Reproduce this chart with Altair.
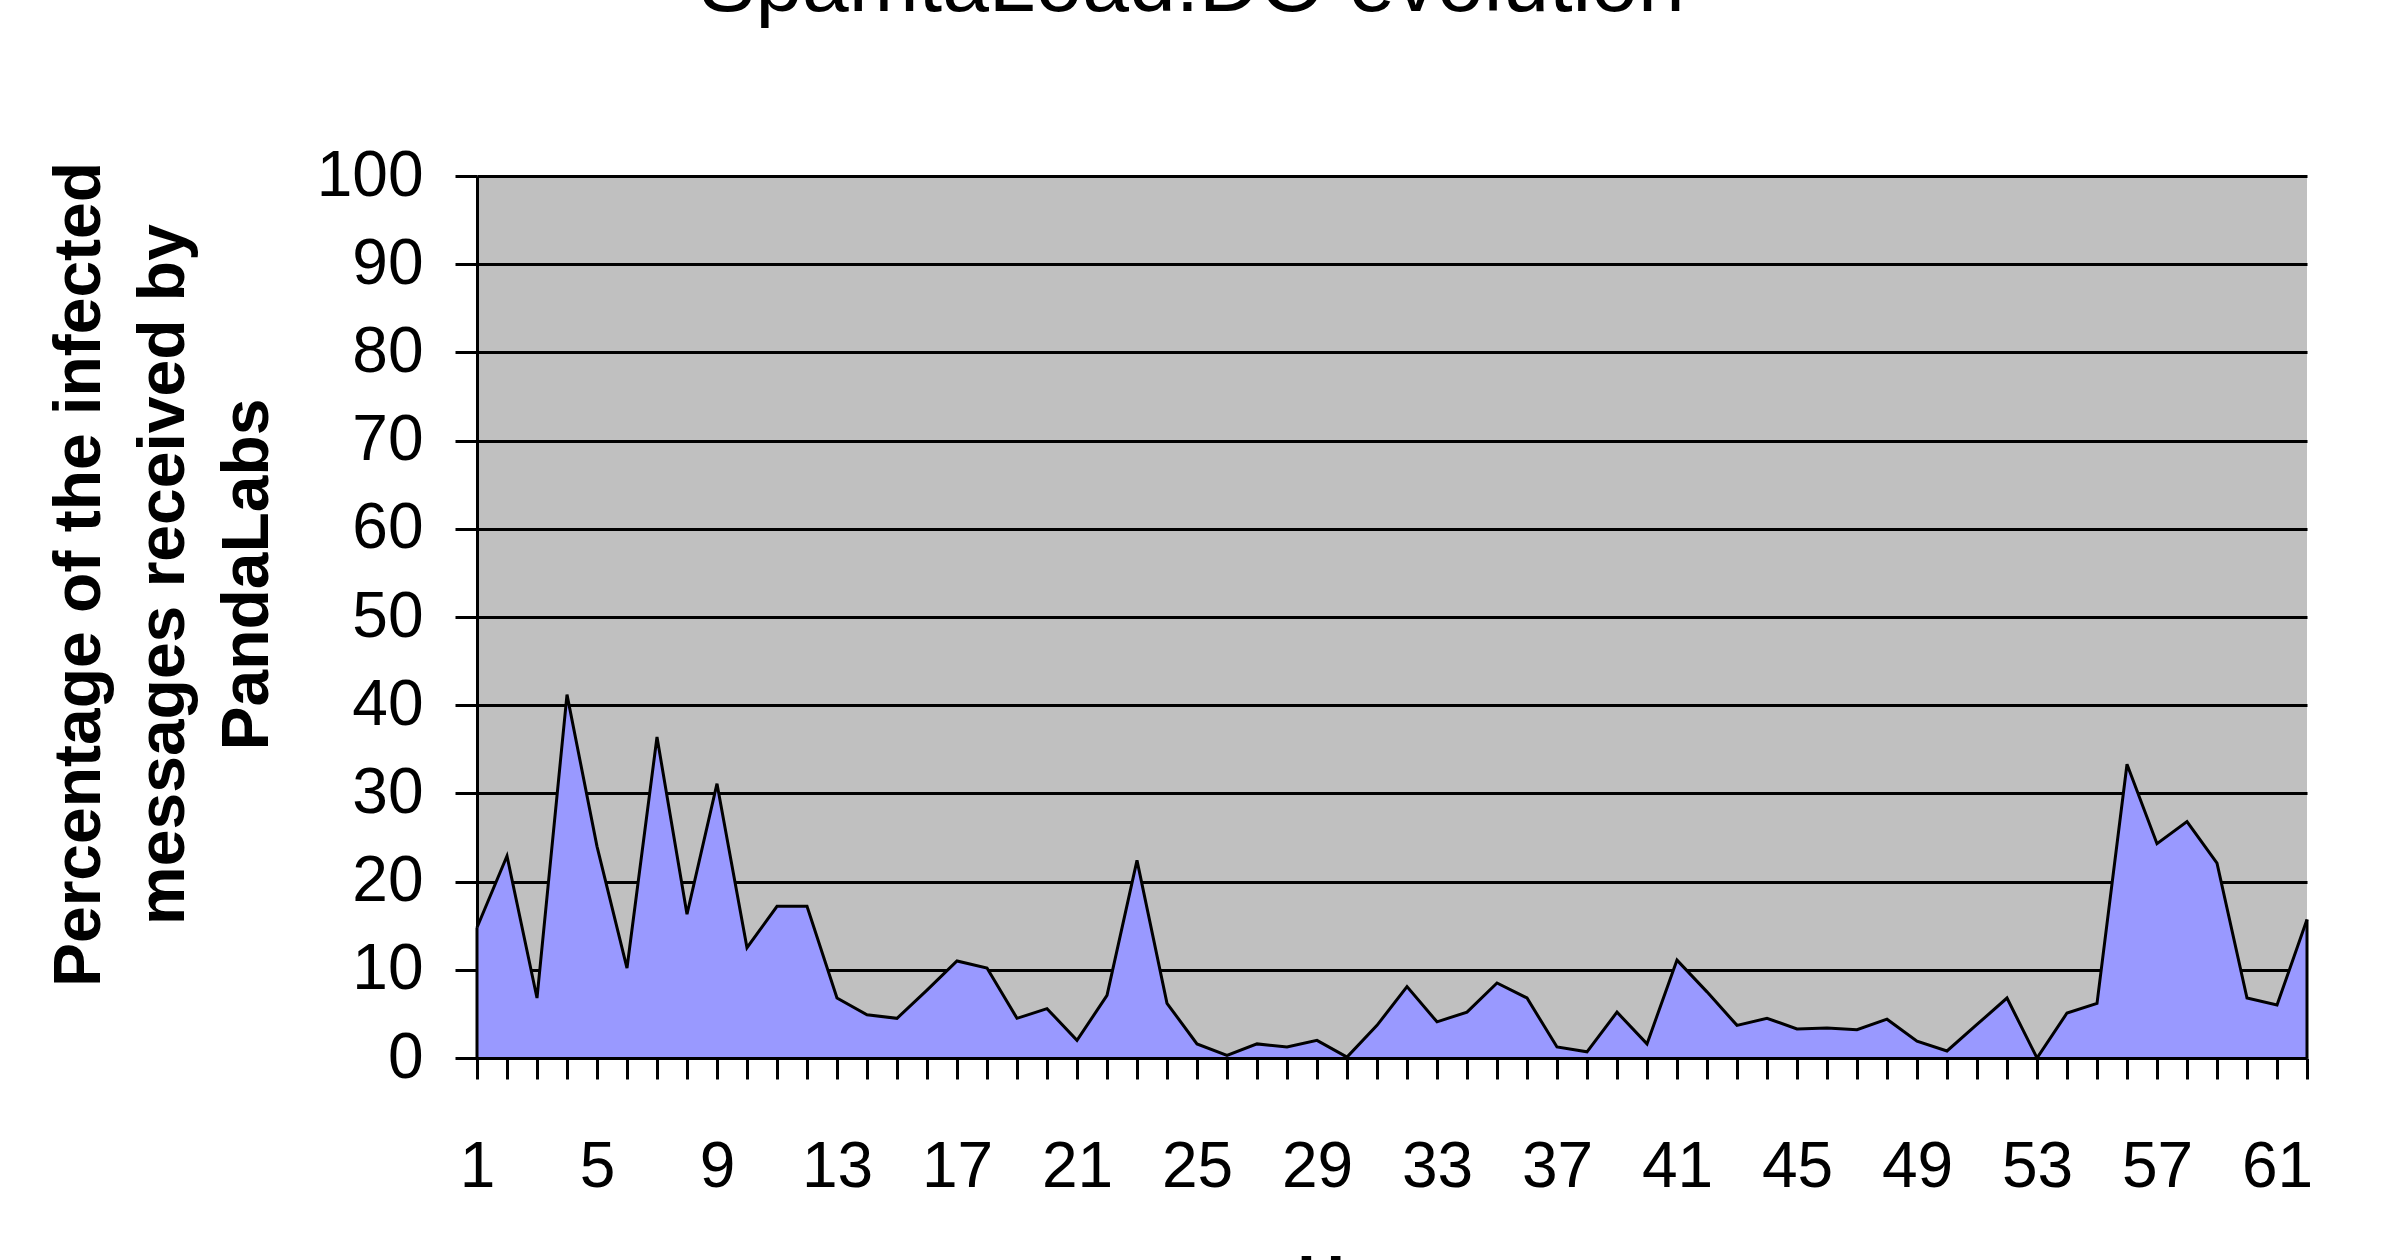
import altair as alt
import pandas as pd

# ---- data ----
hours = list(range(1, 63))
pct = [14.8, 22.9, 6.8, 41.2, 24.0, 10.2, 36.4, 16.3, 31.1, 12.5,
       17.2, 17.2, 6.8, 4.9, 4.5, 7.7, 11.0, 10.2, 4.5, 5.6,
       2.0, 7.1, 22.4, 6.2, 1.6, 0.3, 1.6, 1.25, 2.0, 0.1,
       3.7, 8.1, 4.1, 5.2, 8.5, 6.8, 1.25, 0.7, 5.2, 1.6,
       11.1, 7.5, 3.7, 4.5, 3.3, 3.4, 3.2, 4.4, 1.9, 0.8,
       3.8, 6.8, 0.0, 5.1, 6.2, 33.3, 24.3, 26.8, 22.1, 6.8,
       6.0, 15.7]
y_ticks = [0, 10, 20, 30, 40, 50, 60, 70, 80, 90, 100]
chart_title = "SpamtaLoad.DO evolution"
x_title = "Hours"
y_title = ["Percentage of the infected", "messages received by", "PandaLabs"]

df = pd.DataFrame({"hour": hours, "pct": pct})

FONT = "Liberation Sans"
LW = 3

x_enc = alt.X(
    "hour:Q",
    scale=alt.Scale(domain=[1, 62], nice=False, zero=False),
    axis=alt.Axis(
        values=hours,
        labelExpr="(datum.value - 1) % 4 === 0 ? datum.label : ''",
        labelOverlap=False,
        labelFlush=False,
        grid=False,
        title=x_title,
        titleFont=FONT,
        titleFontSize=66,
        titleFontWeight="bold",
        titleColor="black",
        titleBaseline="top",
        titleY=191,
        tickSize=21,
        tickWidth=LW,
        tickColor="black",
        domainColor="black",
        domainWidth=LW,
        labelFont=FONT,
        labelFontSize=64,
        labelColor="black",
        labelPadding=56,
        zindex=1,
    ),
)

y_enc = alt.Y(
    "pct:Q",
    scale=alt.Scale(domain=[0, 100], nice=False),
    axis=alt.Axis(
        values=y_ticks,
        grid=True,
        gridColor="black",
        gridWidth=LW,
        gridOpacity=1,
        title=y_title,
        titleFont=FONT,
        titleFontSize=66,
        titleFontWeight="bold",
        titleColor="black",
        titleAlign="center",
        titleBaseline="middle",
        titleLineHeight=84,
        titleX=-398,
        titleY=398,
        tickSize=22,
        tickWidth=LW,
        tickColor="black",
        domainColor="black",
        domainWidth=LW,
        labelFont=FONT,
        labelFontSize=64,
        labelColor="black",
        labelPadding=32,
    ),
)

base = alt.Chart(df).encode(x=x_enc, y=y_enc)

area = base.mark_area(
    color="#9999FF",
    opacity=1,
    line={"color": "black", "strokeWidth": LW},
)

edges = base.transform_filter("datum.hour == 1 || datum.hour == 62").mark_rule(
    color="black", strokeWidth=LW
).encode(y2=alt.datum(0))

chart = (
    alt.layer(area, edges)
    .properties(
        width=1830,
        height=882,
        autosize=alt.AutoSizeParams(type="none"),
        padding={"left": 477, "top": 176, "right": 93, "bottom": 202},
        background="white",
        title=alt.TitleParams(
            chart_title,
            font=FONT,
            fontSize=84,
            fontWeight="normal",
            color="black",
            anchor="middle",
            frame="group",
            baseline="alphabetic",
            offset=49,
            dx=-200,
        ),
    )
    .configure_view(fill="#C0C0C0", strokeWidth=0)
)

chart.save("out.html", embed_options={"renderer": "svg", "actions": False})
